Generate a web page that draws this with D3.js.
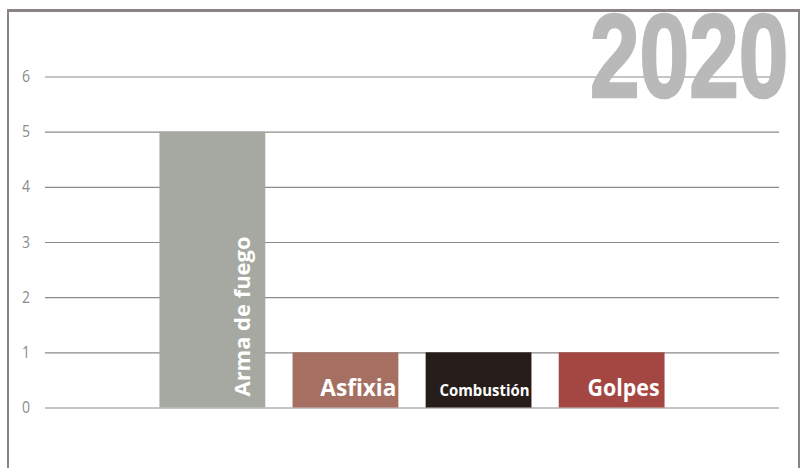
<!DOCTYPE html>
<html><head><meta charset="utf-8">
<script src="https://cdn.jsdelivr.net/npm/d3@7"></script>
<style>body{margin:0;background:#fff}svg{display:block}</style>
</head><body>
<svg id="c" width="802" height="468"></svg>
<script>
const categories = ["Arma de fuego","Asfixia","Combustión","Golpes"];
const values = [5,1,1,1];
const colors = ["#a6a9a1","#a57061","#261d1b","#a44641"];
const yTicks = [0,1,2,3,4,5,6];
const yearLabel = "2020";

const svg = d3.select("#c");
const W=802,H=468;
const x = d3.scaleBand().domain(categories).range([45,779]).paddingInner(0.205).paddingOuter(0.86);
const y = d3.scaleLinear().domain([0,6]).range([407.5,76.5]);

// frame
svg.append("line").attr("x1",8).attr("x2",8).attr("y1",10).attr("y2",H).attr("stroke","#8c8385").attr("stroke-width",2);
svg.append("line").attr("x1",799).attr("x2",799).attr("y1",10).attr("y2",H).attr("stroke","#8c8385").attr("stroke-width",2);
svg.append("line").attr("x1",7).attr("x2",800).attr("y1",10.5).attr("y2",10.5).attr("stroke","#8c8385").attr("stroke-width",3);

// grid
const ax = d3.axisLeft(y).tickValues(yTicks).tickSize(-(779-45)).tickPadding(15).tickFormat(d3.format("d"));
const g = svg.append("g").attr("transform","translate(45,0)").call(ax);
g.select(".domain").remove();
g.selectAll(".tick line").attr("stroke","#8e8a8b").attr("stroke-width",1.2);
g.selectAll(".tick text").attr("fill","#8a8a8a").attr("font-family","Open Sans, sans-serif").attr("font-size",16)
  .attr("textLength",8).attr("lengthAdjust","spacingAndGlyphs");

// year
svg.append("text").attr("transform","translate(590,97) scale(1.6,2)").text(yearLabel)
  .attr("font-family","Liberation Sans, Arial, sans-serif").attr("font-weight","bold")
  .attr("font-size",59).attr("fill","#b9b9b9").attr("stroke","#b9b9b9").attr("stroke-width",1.3)
  .attr("textLength",124).attr("lengthAdjust","spacingAndGlyphs");

// bars
svg.selectAll("rect.bar").data(categories).enter().append("rect")
  .attr("x",d=>x(d)).attr("width",x.bandwidth())
  .attr("y",(d,i)=>y(values[i])).attr("height",(d,i)=>y(0)-y(values[i]))
  .attr("fill",(d,i)=>colors[i]);

// labels
const font="Open Sans, sans-serif";
svg.append("text").attr("transform",`translate(${x(categories[0])+x.bandwidth()-15},${y(0)-11}) rotate(-90)`)
  .text(categories[0]).attr("font-family",font).attr("font-weight","bold").attr("font-size",21)
  .attr("fill","#fff").attr("textLength",160).attr("lengthAdjust","spacingAndGlyphs");
const hl = [null,{s:23,len:76},{s:16,len:90},{s:23,len:72}];
[1,2,3].forEach(i=>{
  svg.append("text").attr("x",x(categories[i])+x.bandwidth()-(i==3?5:2)).attr("y",y(0)-12)
    .attr("text-anchor","end").text(categories[i]).attr("font-family",font).attr("font-weight","bold")
    .attr("font-size",hl[i].s).attr("fill","#fff")
    .attr("textLength",hl[i].len).attr("lengthAdjust","spacingAndGlyphs");
});
</script>
</body></html>
